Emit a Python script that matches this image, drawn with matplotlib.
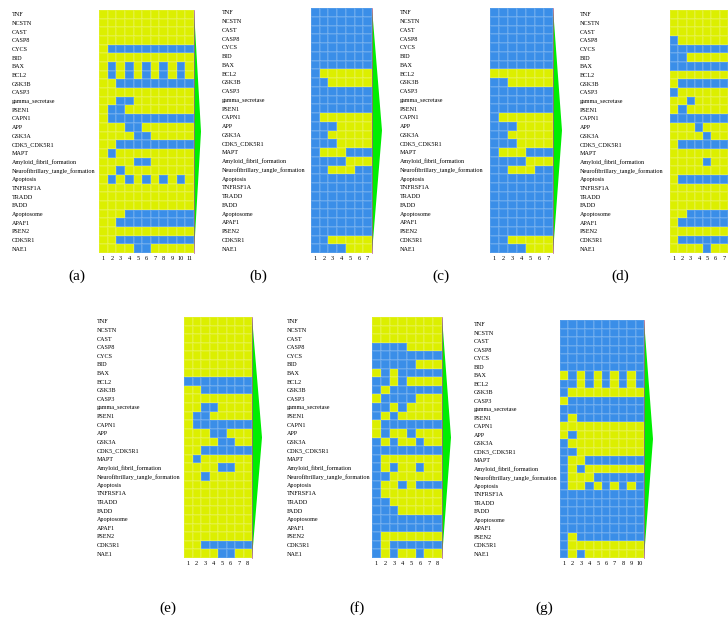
import numpy as np
import matplotlib
matplotlib.use('Agg')
import matplotlib.pyplot as plt
from matplotlib.colors import ListedColormap

plt.rcParams['font.family'] = ['Liberation Serif', 'DejaVu Serif']

genes = ['TNF', 'NCSTN', 'CAST', 'CASP8', 'CYCS', 'BID', 'BAX', 'BCL2', 'GSK3B',
         'CASP3', 'gamma_secretase', 'PSEN1', 'CAPN1', 'APP', 'GSK3A',
         'CDK5_CDK5R1', 'MAPT', 'Amyloid_fibril_formation',
         'Neurofibrillary_tangle_formation', 'Apoptosis', 'TNFRSF1A', 'TRADD',
         'FADD', 'Apoptosome', 'APAF1', 'PSEN2', 'CDK5R1', 'NAE1']

# 1 = blue cell, 0 = yellow cell; one string per gene, one char per step
states_a = ['00000000000', '00000000000', '00000000000', '00000000000',
            '01111111111', '00000000000', '01010101010', '01010101010',
            '00111111111', '00000000000', '00110000000', '01100000000',
            '01111111111', '00011000000', '00001100000', '00111111111',
            '01000000000', '00001100000', '00100000000', '01010101010',
            '00000000000', '00000000000', '00000000000', '00011111111',
            '00111111111', '00000000000', '00111111111', '00001100000']
states_b = ['1111111', '1111111', '1111111', '1111111', '1111111', '1111111',
            '1111111', '1000000', '1100000', '1111111', '1111111', '1111111',
            '1000000', '1110000', '1100000', '1110000', '1000111', '1111000',
            '1100011', '1111111', '1111111', '1111111', '1111111', '1111111',
            '1111111', '1111111', '1100000', '1111000']
states_c = ['1111111', '1111111', '1111111', '1111111', '1111111', '1111111',
            '1111111', '0000000', '1100000', '1111111', '1111111', '1111111',
            '1000000', '1110000', '1100000', '1110000', '1000111', '1111000',
            '1100011', '1111111', '1111111', '1111111', '1111111', '1111111',
            '1111111', '1111111', '1100000', '1111000']
states_d = ['0000000', '0000000', '0000000', '1000000', '1111111',
            '1100000', '1111111', '0000000', '0111111', '1000000',
            '0010000', '0100000', '1111111', '0001000', '0000100',
            '0111111', '0000000', '0000100', '0000000', '0111111',
            '0000000', '0000000', '0000000', '0011111', '0111111',
            '0000000', '0111111', '0000100']
states_e = ['00000000', '00000000', '00000000', '00000000', '00000000',
            '00000000', '00000000', '11111111', '00111111', '00000000',
            '00110000', '01100000', '01111111', '00011000', '00001100',
            '00111111', '01000000', '00001100', '00100000', '00000000',
            '00000000', '00000000', '00000000', '00000000', '00000000',
            '00000000', '00111111', '00001100']
states_f = ['00000000', '00000000', '00000000', '11110000', '11111111',
            '11111000', '01011111', '11010000', '10111111', '01111000',
            '11010000', '10100000', '01111111', '01001000', '10100100',
            '11111111', '10000000', '10100100', '11000000', '10010111',
            '10000000', '11000000', '11100000', '11111111', '11111111',
            '10000000', '10111111', '10100100']
states_g = ['1111111111', '1111111111', '1111111111', '1111111111',
            '1111111111', '1111111111', '0101010101', '1101010101',
            '1000000000', '0111111111', '1111111111', '1011111111',
            '0000000000', '0100000000', '1000000000', '1100000000',
            '1001111111', '1010000000', '1000111111', '1001010101',
            '1111111111', '1111111111', '1111111111', '1111111111',
            '1111111111', '1011111111', '1000000000', '1010000000']

captions = ['(a)', '(b)', '(c)', '(d)', '(e)', '(f)', '(g)']

W, H = 728, 618
yellow = '#dcef00'
blue = '#3a8ee8'
cmap = ListedColormap([yellow, blue])

# pixel layout: grid box (left, top, right, bottom), label x, wedge width, caption xy
layout = [
    (states_a, (99, 10, 194, 253), 12, 7, (77, 276)),
    (states_b, (311, 8, 372, 253), 222, 10, (258, 276)),
    (states_c, (490, 8, 553, 253), 400, 9, (441, 276)),
    (states_d, (670, 10, 728, 253), 580, 9, (620, 276)),
    (states_e, (184, 317, 252, 558), 97, 10, (168, 608)),
    (states_f, (372, 317, 442, 558), 287, 9, (357, 608)),
    (states_g, (560, 320, 644, 558), 474, 9, (544, 608)),
]

fig = plt.figure(figsize=(W / 100, H / 100), dpi=100)

for k, (states, box, lab_x, wedge, cap) in enumerate(layout):
    l, t, r, b = box
    ax = fig.add_axes([l / W, 1 - b / H, (r - l) / W, (b - t) / H])
    mat = np.array([[int(c) for c in row] for row in states])
    nrow, ncol = mat.shape
    ax.pcolormesh(mat, cmap=cmap, vmin=0, vmax=1,
                  edgecolors=(1, 1, 1, 0.12), linewidth=0.3)
    ax.set_xlim(0, ncol)
    ax.set_ylim(nrow, 0)
    ax.set_xticks(np.arange(ncol) + 0.5)
    ax.set_xticklabels([str(i + 1) for i in range(ncol)], fontsize=4.6)
    ax.set_yticks(np.arange(nrow) + 0.5)
    ax.set_yticklabels(genes, fontsize=4.4)
    ax.tick_params(length=0)
    ax.tick_params(axis='y', pad=(l - lab_x) * 0.72)
    ax.tick_params(axis='x', pad=2)
    for lab in ax.get_yticklabels():
        lab.set_ha('left')
    for s in ax.spines.values():
        s.set_visible(False)
    # green wedge at the right side
    wx = wedge / (r - l) * ncol
    ax.fill([ncol, ncol + wx, ncol], [0, nrow / 2, nrow], color='#00ee00',
            clip_on=False, lw=0)
    ax.plot([ncol, ncol], [0, nrow], color='#b0508a', lw=0.5, clip_on=False)
    fig.text(cap[0] / W, 1 - cap[1] / H, captions[k], fontsize=11,
             ha='center', va='center')

fig.savefig('out.png', dpi=100)
